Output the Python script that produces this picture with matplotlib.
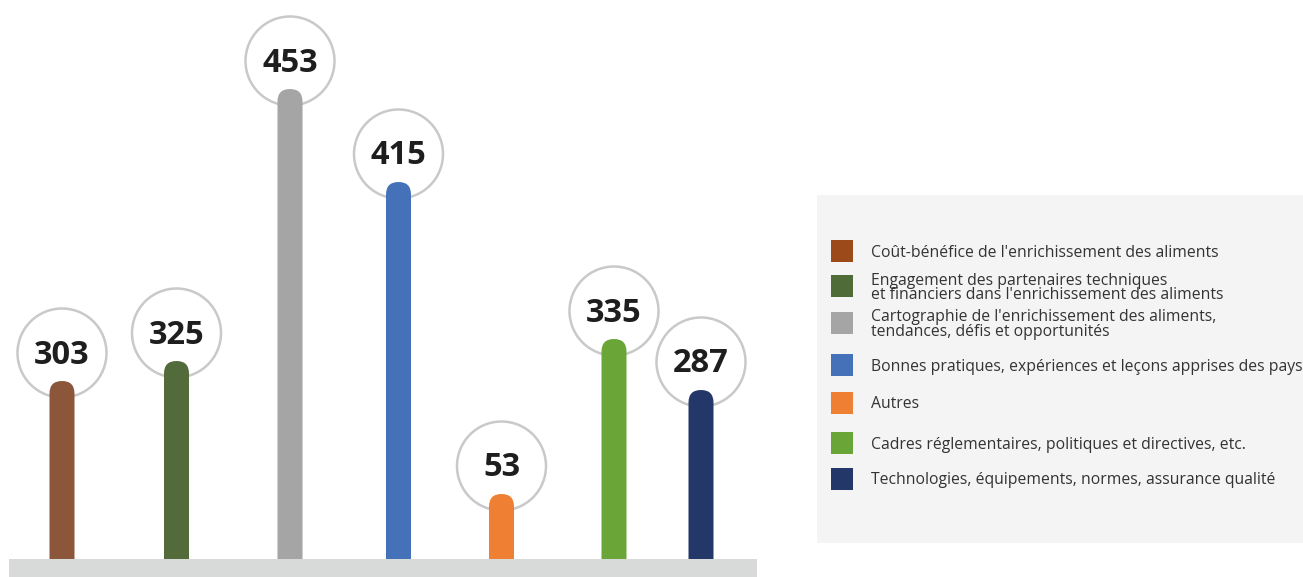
import matplotlib
matplotlib.use('Agg')
import matplotlib.pyplot as plt
from matplotlib.patches import FancyBboxPatch, Circle, Rectangle

plt.rcParams['font.family'] = ['Open Sans', 'DejaVu Sans']

# data
categories = [
    "Coût-bénéfice de l'enrichissement des aliments",
    "Engagement des partenaires techniques\net financiers dans l'enrichissement des aliments",
    "Cartographie de l'enrichissement des aliments,\ntendances, défis et opportunités",
    "Bonnes pratiques, expériences et leçons apprises des pays",
    "Autres",
    "Cadres réglementaires, politiques et directives, etc.",
    "Technologies, équipements, normes, assurance qualité",
]
values = [303, 325, 453, 415, 53, 335, 287]
# drawn heights of the stems (the infographic is not to scale)
bar_heights = [178, 198, 470, 377, 65, 220, 169]

bar_colors = ['#8b563a', '#536b3a', '#a5a5a5', '#4571b8', '#ee7f33', '#6aa538', '#243769']
legend_colors = ['#9c4a1a', '#4f6b38', '#a5a5a5', '#4571b8', '#ee7f33', '#6aa538', '#243769']

# layout (pixel-like units)
bar_x = [62, 176.5, 290, 398.5, 501.5, 614, 701]
legend_y = [251, 286, 322.5, 365, 402.5, 443, 478.5]   # from top of image

W, H = 1303, 577
base_y = 559

fig = plt.figure(figsize=(W / 100, H / 100), dpi=100)
ax = fig.add_axes([0, 0, 1, 1])
ax.set_xlim(0, W)
ax.set_ylim(base_y - H, base_y)
ax.axis('off')

bw = 25
for x, h, v, c in zip(bar_x, bar_heights, values, bar_colors):
    ring = Circle((x, h + 28), 44.5, facecolor='white', edgecolor='#c9c9c9', lw=1.8, zorder=1)
    ax.add_patch(ring)
    stem = FancyBboxPatch((x - bw / 2, -15), bw, h + 15,
                          boxstyle='round,pad=0,rounding_size=12.5',
                          facecolor=c, edgecolor='none', zorder=2)
    ax.add_patch(stem)
    ax.text(x, h + 26, str(v), ha='center', va='center', fontsize=23.5,
            fontweight='bold', color='#1e1e1e', zorder=3)

# base
ax.add_patch(Rectangle((9, base_y - H), 748, H - base_y, facecolor='#d8dad9',
                       edgecolor='none', zorder=4))

# legend panel
ax.add_patch(Rectangle((817, base_y - 543), W - 817, 543 - 195, facecolor='#f4f4f4',
                       edgecolor='none', zorder=0))
for lab, c, y in zip(categories, legend_colors, legend_y):
    yy = base_y - y
    ax.add_patch(Rectangle((831, yy - 11), 22, 22, facecolor=c, edgecolor='none', zorder=1))
    ax.text(871, yy - 2, lab, ha='left', va='center', fontsize=11.3, color='#333333',
            linespacing=0.88, zorder=2)

fig.savefig('out.png', dpi=100)
